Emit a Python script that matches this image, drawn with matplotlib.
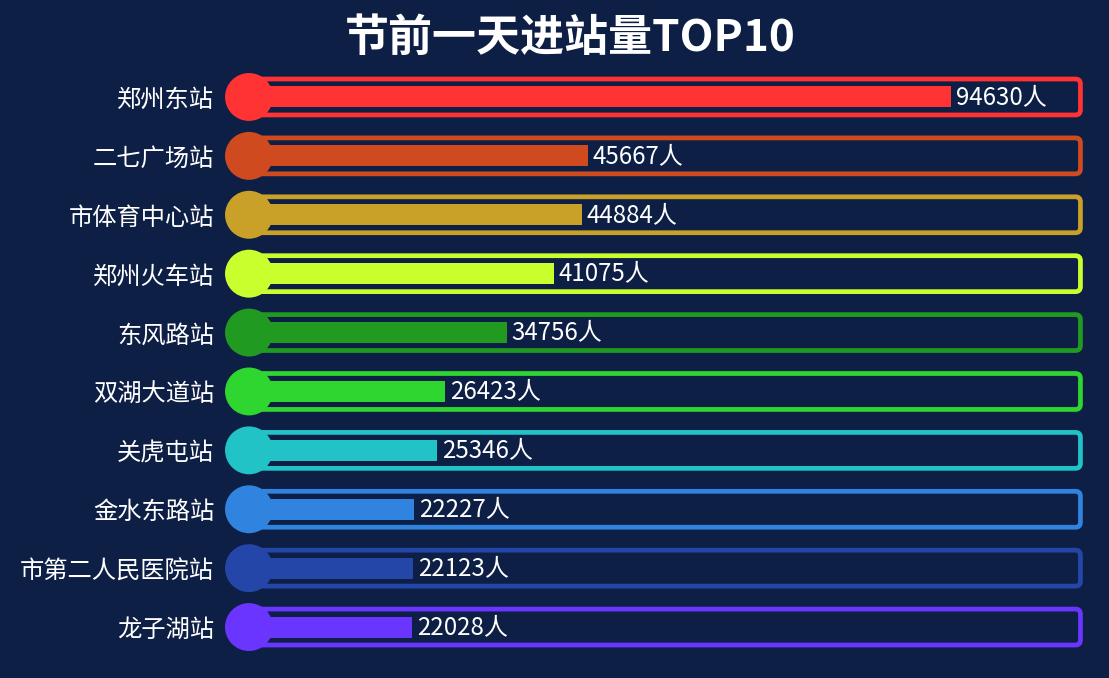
import numpy as np
import matplotlib
matplotlib.use('Agg')
import matplotlib.pyplot as plt
from matplotlib.patches import FancyBboxPatch

plt.rcParams['font.family'] = ['Noto Sans CJK SC', 'DejaVu Sans']

# Station data (top to bottom)
stations = ['郑州东站', '二七广场站', '市体育中心站', '郑州火车站', '东风路站',
            '双湖大道站', '关虎屯站', '金水东路站', '市第二人民医院站', '龙子湖站']
counts = [94630, 45667, 44884, 41075, 34756, 26423, 25346, 22227, 22123, 22028]
colors = ['#ff3333', '#cf4a1f', '#c9a128', '#caff2e', '#219a22',
          '#2fd62f', '#21c3c6', '#3083de', '#2446a8', '#6a35ff']
title = '节前一天进站量TOP10'

box_max = 112100  # width of the outline track
bg = '#0e1f46'

fig = plt.figure(figsize=(11.09, 6.78), dpi=100, facecolor=bg)
ax = fig.add_axes([0.2245, 0.0317, 0.752, 0.8687])
ax.set_facecolor(bg)

y = np.arange(len(stations))
xmax = box_max * 1.003
ax.set_xlim(0, xmax)
ax.set_ylim(len(y) - 0.5, -0.5)

# rounded outline track (radius ~5px, converted to data units)
bb = ax.get_window_extent()
rx = 5 * xmax / bb.width
ry = 5 * len(y) / bb.height
box_h = 0.61
for yi, c in zip(y, colors):
    p = FancyBboxPatch((rx, yi - box_h / 2 + ry), box_max - 2 * rx, box_h - 2 * ry,
                       boxstyle=f'round,pad={rx},rounding_size={rx}',
                       mutation_aspect=ry / rx, fill=False, edgecolor=c,
                       linewidth=3.4, zorder=1)
    ax.add_patch(p)

# value bar
ax.barh(y, counts, height=0.357, color=colors, zorder=2)
# round cap at the start
ax.scatter([0] * len(y), y, s=1190, c=colors, zorder=3, linewidths=0,
           clip_on=False)

for yi, v in zip(y, counts):
    ax.annotate(f'{v}人', (v, yi), xytext=(3.5, 0), textcoords='offset points',
                ha='left', va='center', color='white', fontsize=17.3, zorder=4)

ax.set_yticks(y, stations)
ax.tick_params(axis='y', length=0, pad=25, labelsize=17.5, labelcolor='white')
ax.set_xticks([])
for s in ax.spines.values():
    s.set_visible(False)

fig.text(0.514, 0.944, title, ha='center', va='center', color='white',
         fontsize=31.7, fontweight='bold')

fig.savefig('out.png', dpi=100, facecolor=bg)
